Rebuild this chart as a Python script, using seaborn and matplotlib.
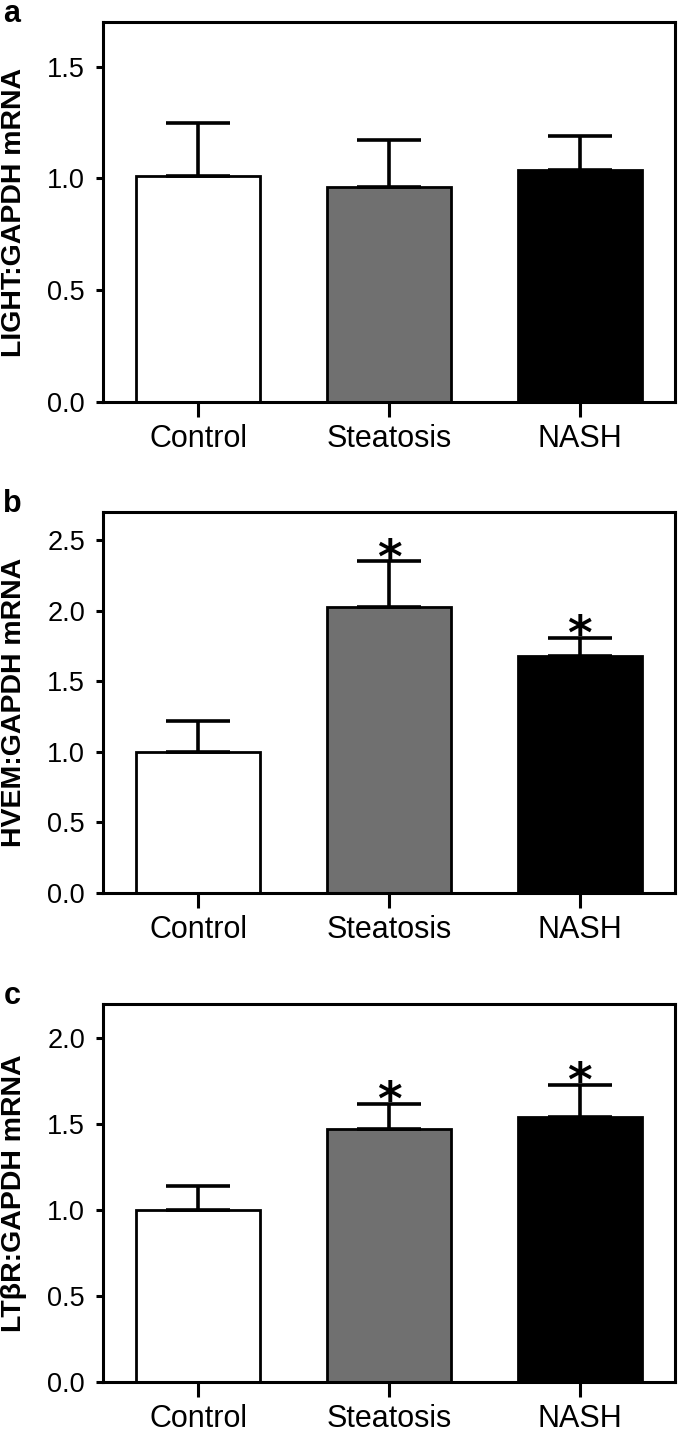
import matplotlib
matplotlib.use("Agg")
import matplotlib.pyplot as plt
import seaborn as sns
import numpy as np
import pandas as pd
from matplotlib.ticker import FormatStrFormatter

# --- data ---
groups = ["Control", "Steatosis", "NASH"]
bar_colors = ["#ffffff", "#707070", "#000000"]

light_mean = [1.01, 0.96, 1.04]
light_sem = [0.24, 0.21, 0.15]
light_sig = [False, False, False]

hvem_mean = [1.00, 2.03, 1.68]
hvem_sem = [0.22, 0.32, 0.13]
hvem_sig = [False, True, True]

ltbr_mean = [1.00, 1.47, 1.54]
ltbr_sem = [0.14, 0.15, 0.19]
ltbr_sig = [False, True, True]

panel_letters = ["a", "b", "c"]
ylabels = ["LIGHT:GAPDH mRNA", "HVEM:GAPDH mRNA", "LTβR:GAPDH mRNA"]
ylims = [1.7, 2.7, 2.2]
yticks = [[0.0, 0.5, 1.0, 1.5],
          [0.0, 0.5, 1.0, 1.5, 2.0, 2.5],
          [0.0, 0.5, 1.0, 1.5, 2.0]]

sns.set_theme(style="ticks")
plt.rcParams['font.family'] = ['Liberation Sans', 'DejaVu Sans']
plt.rcParams['text.color'] = 'black'
plt.rcParams['axes.labelcolor'] = 'black'

W, H = 681, 1437
fig = plt.figure(figsize=(W / 100, H / 100), dpi=100)

# axes boxes in pixels: (left, top, right, zero line)
boxes = [(103, 22, 675, 402), (103, 512, 675, 893), (103, 1004, 675, 1382)]

panels = [(light_mean, light_sem, light_sig),
          (hvem_mean, hvem_sem, hvem_sig),
          (ltbr_mean, ltbr_sem, ltbr_sig)]

for i, ((means, sems, sig), (l, t, r, b)) in enumerate(zip(panels, boxes)):
    ax = fig.add_axes([l / W, 1 - b / H, (r - l) / W, (b - t) / H])
    df = pd.DataFrame({"group": groups, "value": means})
    sns.barplot(data=df, x="group", y="value", hue="group", order=groups,
                palette=bar_colors, legend=False, errorbar=None,
                edgecolor="black", linewidth=2.0, width=0.65, ax=ax)
    x = np.arange(len(groups))
    ax.errorbar(x, means, yerr=[np.zeros(len(sems)), sems], fmt="none",
                ecolor="black", elinewidth=2.6, capsize=23, capthick=2.6, zorder=3)
    for xi, m, s, flag in zip(x, means, sems, sig):
        if flag:
            ax.annotate("*", (xi, m + s), xytext=(0, -8), textcoords="offset points",
                        ha="center", va="baseline", fontsize=34, fontweight="bold",
                        family="DejaVu Sans", color="black")

    ax.set_xlim(-0.5, 2.5)
    ax.set_ylim(0, ylims[i])
    ax.set_yticks(yticks[i])
    ax.yaxis.set_major_formatter(FormatStrFormatter("%.1f"))
    ax.set_xlabel("")
    ax.set_ylabel(ylabels[i], fontsize=20.5, fontweight="bold", color="black")
    ax.yaxis.set_label_coords(-0.132, 0.5)
    for sp in ax.spines.values():
        sp.set_visible(True)
        sp.set_linewidth(2.2)
        sp.set_color("black")
    ax.tick_params(axis="x", direction="out", length=11, width=2.2, pad=5,
                   labelsize=22, colors="black")
    ax.tick_params(axis="y", direction="out", length=5, width=2.2, pad=8,
                   labelsize=19.5, colors="black")
    fig.text(12 / W, 1 - (t - 8) / H, panel_letters[i], fontsize=22,
             fontweight="bold", ha="center", va="center", color="black")

fig.savefig("out.png", dpi=100)
